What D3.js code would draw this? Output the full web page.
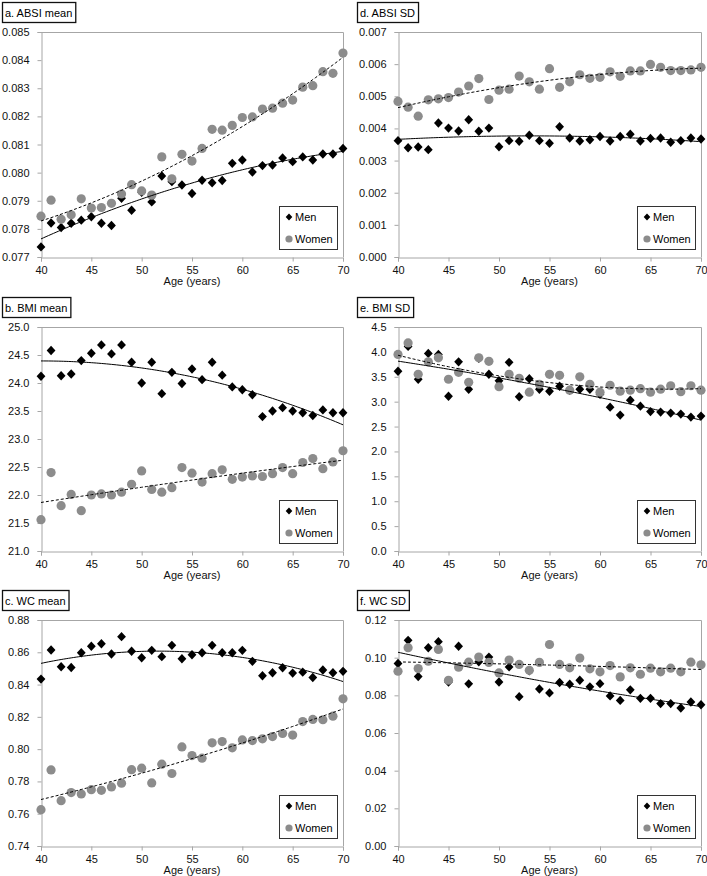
<!DOCTYPE html>
<html>
<head>
<meta charset="utf-8">
<script src="https://cdn.jsdelivr.net/npm/d3@7"></script>
<style>
  html, body { margin: 0; padding: 0; background: #fff; }
  svg { display: block; font-family: "Liberation Sans", Arial, sans-serif; }
</style>
</head>
<body>
<svg id="chart" width="707" height="876"></svg>
<script>
// ---------------- DATA ----------------
const ages = [40,41,42,43,44,45,46,47,48,49,50,51,52,53,54,55,56,57,58,59,60,61,62,63,64,65,66,67,68,69,70];
const xTicks = [40,45,50,55,60,65,70];
const seriesNames = ["Men", "Women"];

const absiMeanMen = [0.07736,0.07821,0.07805,0.07820,0.07831,0.07843,0.07820,0.07812,0.07909,0.07866,0.07930,0.07896,0.07988,0.07968,0.07956,0.07926,0.07973,0.07964,0.07972,0.08033,0.08045,0.08002,0.08025,0.08027,0.08052,0.08039,0.08056,0.08045,0.08066,0.08066,0.08086];
const absiMeanWomen = [0.07845,0.07902,0.07834,0.07850,0.07907,0.07874,0.07876,0.07891,0.07924,0.07957,0.07935,0.07920,0.08056,0.07978,0.08065,0.08041,0.08086,0.08154,0.08151,0.08168,0.08196,0.08198,0.08226,0.08229,0.08247,0.08258,0.08304,0.08309,0.08359,0.08353,0.08425];
const absiMeanTicks = [0.077,0.078,0.079,0.080,0.081,0.082,0.083,0.084,0.085];

const absiSdMen = [0.00362,0.00340,0.00342,0.00334,0.00417,0.00401,0.00392,0.00427,0.00391,0.00401,0.00343,0.00362,0.00360,0.00379,0.00362,0.00354,0.00405,0.00370,0.00361,0.00365,0.00375,0.00361,0.00375,0.00382,0.00361,0.00369,0.00370,0.00357,0.00362,0.00370,0.00367];
const absiSdWomen = [0.00484,0.00466,0.00438,0.00489,0.00492,0.00496,0.00513,0.00532,0.00555,0.00490,0.00519,0.00522,0.00563,0.00545,0.00522,0.00586,0.00528,0.00545,0.00567,0.00556,0.00559,0.00576,0.00562,0.00579,0.00579,0.00599,0.00590,0.00580,0.00580,0.00582,0.00590];
const absiSdTicks = [0.000,0.001,0.002,0.003,0.004,0.005,0.006,0.007];

const bmiMeanMen = [24.12,24.58,24.13,24.16,24.40,24.53,24.68,24.52,24.68,24.37,24.00,24.37,23.81,24.19,23.99,24.25,24.06,24.37,24.14,23.93,23.88,23.79,23.40,23.50,23.56,23.50,23.47,23.42,23.52,23.47,23.47];
const bmiMeanWomen = [21.56,22.40,21.81,22.01,21.72,22.00,22.02,22.00,22.05,22.19,22.43,22.10,22.05,22.13,22.49,22.39,22.23,22.38,22.45,22.28,22.32,22.34,22.33,22.38,22.49,22.38,22.58,22.65,22.47,22.59,22.79];
const bmiMeanTicks = [21.0,21.5,22.0,22.5,23.0,23.5,24.0,24.5,25.0];

const bmiSdMen = [3.61,4.11,3.45,3.97,3.95,3.11,3.80,3.25,3.87,3.55,3.42,3.79,3.10,3.46,3.25,3.21,3.31,3.23,3.25,3.25,3.15,2.89,2.73,3.03,2.91,2.80,2.79,2.77,2.75,2.69,2.71];
const bmiSdWomen = [3.95,4.18,3.55,3.80,3.88,3.45,3.59,3.39,3.88,3.81,3.30,3.55,3.47,3.19,3.35,3.55,3.53,3.23,3.50,3.35,3.19,3.33,3.21,3.23,3.26,3.19,3.25,3.32,3.20,3.32,3.23];
const bmiSdTicks = [0.0,0.5,1.0,1.5,2.0,2.5,3.0,3.5,4.0,4.5];

const wcMeanMen = [0.8434,0.8614,0.8510,0.8506,0.8597,0.8637,0.8653,0.8589,0.8697,0.8606,0.8566,0.8612,0.8573,0.8643,0.8560,0.8585,0.8597,0.8643,0.8597,0.8597,0.8612,0.8544,0.8455,0.8473,0.8504,0.8471,0.8477,0.8444,0.8490,0.8473,0.8482];
const wcMeanWomen = [0.7625,0.7871,0.7681,0.7731,0.7722,0.7749,0.7745,0.7766,0.7789,0.7873,0.7882,0.7791,0.7907,0.7849,0.8014,0.7960,0.7944,0.8039,0.8047,0.8008,0.8057,0.8053,0.8064,0.8078,0.8097,0.8087,0.8171,0.8184,0.8182,0.8204,0.8312];
const wcMeanTicks = [0.74,0.76,0.78,0.80,0.82,0.84,0.86,0.88];

const wcSdMen = [0.0969,0.1092,0.0900,0.1053,0.1085,0.0871,0.1061,0.0861,0.0978,0.1003,0.0871,0.0951,0.0793,0.0930,0.0834,0.0813,0.0868,0.0859,0.0880,0.0845,0.0862,0.0797,0.0773,0.0829,0.0784,0.0784,0.0756,0.0756,0.0733,0.0765,0.0750];
const wcSdWomen = [0.0928,0.1053,0.0942,0.0981,0.1044,0.0880,0.0949,0.0976,0.1003,0.0975,0.0919,0.0987,0.0964,0.0933,0.0975,0.1070,0.0964,0.0946,0.0998,0.0941,0.0925,0.0958,0.0898,0.0946,0.0912,0.0944,0.0925,0.0944,0.0925,0.0976,0.0962];
const wcSdTicks = [0.00,0.02,0.04,0.06,0.08,0.10,0.12];

const panelTitles = ["a. ABSI mean","b. BMI mean","c. WC mean","d. ABSI SD","e. BMI SD","f. WC SD"];
const xTitle = "Age (years)";

// ---------------- LAYOUT ----------------
const panels = [
  {title: panelTitles[0], men: absiMeanMen, women: absiMeanWomen, ticks: absiMeanTicks, fmt: ".3f", col: 0, row: 0},
  {title: panelTitles[1], men: bmiMeanMen,  women: bmiMeanWomen,  ticks: bmiMeanTicks,  fmt: ".1f", col: 0, row: 1},
  {title: panelTitles[2], men: wcMeanMen,   women: wcMeanWomen,   ticks: wcMeanTicks,   fmt: ".2f", col: 0, row: 2},
  {title: panelTitles[3], men: absiSdMen,   women: absiSdWomen,   ticks: absiSdTicks,   fmt: ".3f", col: 1, row: 0},
  {title: panelTitles[4], men: bmiSdMen,    women: bmiSdWomen,    ticks: bmiSdTicks,    fmt: ".1f", col: 1, row: 1},
  {title: panelTitles[5], men: wcSdMen,     women: wcSdWomen,     ticks: wcSdTicks,     fmt: ".2f", col: 1, row: 2}
];
const colX = [[41, 343], [398, 701]];
const colTitleX = [2, 357];
const rowY = [[32, 257], [327, 551], [620, 846]];

const grey = "#8c8c8c";
const frame = "#a6a6a6";

function polyfit(xs, ys, deg) {
  const n = deg + 1;
  const A = Array.from({length: n}, () => new Array(n + 1).fill(0));
  xs.forEach((x, i) => {
    for (let r = 0; r < n; r++) {
      for (let c = 0; c < n; c++) A[r][c] += Math.pow(x, r + c);
      A[r][n] += ys[i] * Math.pow(x, r);
    }
  });
  for (let i = 0; i < n; i++) {
    let p = i;
    for (let k = i + 1; k < n; k++) if (Math.abs(A[k][i]) > Math.abs(A[p][i])) p = k;
    [A[i], A[p]] = [A[p], A[i]];
    for (let k = i + 1; k < n; k++) {
      const f = A[k][i] / A[i][i];
      for (let c = i; c <= n; c++) A[k][c] -= f * A[i][c];
    }
  }
  const coef = new Array(n).fill(0);
  for (let i = n - 1; i >= 0; i--) {
    let s = A[i][n];
    for (let c = i + 1; c < n; c++) s -= A[i][c] * coef[c];
    coef[i] = s / A[i][i];
  }
  return x => coef.reduce((acc, a, k) => acc + a * Math.pow(x, k), 0);
}

const svg = d3.select("#chart");
const font = 11;

function diamondPath(cx, cy, hw, hh) {
  return `M${cx},${cy - hh}L${cx + hw},${cy}L${cx},${cy + hh}L${cx - hw},${cy}Z`;
}

panels.forEach(p => {
  const [x0, x1] = colX[p.col];
  const [y0, y1] = rowY[p.row];
  const x = d3.scaleLinear().domain([40, 70]).range([x0, x1]);
  const y = d3.scaleLinear().domain([p.ticks[0], p.ticks[p.ticks.length - 1]]).range([y1, y0]);
  const g = svg.append("g");

  // frame (top and right)
  g.append("path")
    .attr("d", `M${x0},${y0 + 0.5}H${x1 + 0.5}V${y1}`)
    .attr("fill", "none").attr("stroke", frame).attr("stroke-width", 1);

  // y axis
  const yAx = g.append("g").attr("transform", `translate(${x0 + 0.5},0)`)
    .call(d3.axisLeft(y).tickValues(p.ticks).tickFormat(d3.format(p.fmt)).tickSize(4).tickPadding(8));
  yAx.select(".domain").attr("stroke", frame);
  yAx.selectAll(".tick line").attr("stroke", frame);
  yAx.selectAll("text").attr("font-size", font).attr("fill", "#111")
     .attr("font-family", "Liberation Sans, Arial, sans-serif");

  // x axis
  const xAx = g.append("g").attr("transform", `translate(0,${y1 + 0.5})`)
    .call(d3.axisBottom(x).tickValues(xTicks).tickSize(4).tickPadding(5));
  xAx.select(".domain").attr("stroke", frame);
  xAx.selectAll(".tick line").attr("stroke", frame);
  xAx.selectAll("text").attr("font-size", font).attr("fill", "#111")
     .attr("font-family", "Liberation Sans, Arial, sans-serif");

  g.append("text").attr("x", (x0 + x1) / 2).attr("y", y1 + 28)
    .attr("text-anchor", "middle").attr("font-size", font).attr("fill", "#111").text(xTitle);

  // trend lines
  const fitM = polyfit(ages.map(a => a - 55), p.men, 2);
  const fitW = polyfit(ages.map(a => a - 55), p.women, 2);
  const xs = d3.range(40, 70.001, 0.25);
  const line = d3.line().x(d => x(d[0])).y(d => y(d[1]));

  // men points
  g.append("g").selectAll("path").data(ages).join("path")
    .attr("d", (a, i) => diamondPath(x(a), y(p.men[i]), 4.4, 4.7))
    .attr("fill", "#000");
  // women points (drawn over men)
  g.append("g").selectAll("circle").data(ages).join("circle")
    .attr("cx", a => x(a)).attr("cy", (a, i) => y(p.women[i])).attr("r", 4.6)
    .attr("fill", grey);

  g.append("path").datum(xs.map(v => [v, fitM(v - 55)])).attr("d", line)
    .attr("fill", "none").attr("stroke", "#000").attr("stroke-width", 1);
  g.append("path").datum(xs.map(v => [v, fitW(v - 55)])).attr("d", line)
    .attr("fill", "none").attr("stroke", "#000").attr("stroke-width", 1)
    .attr("stroke-dasharray", "3,2");

  // title box
  const tx = colTitleX[p.col];
  const ty = y0 - 30;
  const tg = g.append("g");
  const rect = tg.append("rect").attr("x", tx + 0.5).attr("y", ty + 0.5).attr("height", 20)
    .attr("fill", "#fff").attr("stroke", "#111").attr("stroke-width", 1.3);
  const tt = tg.append("text").attr("x", tx + 3).attr("y", ty + 14.5)
    .attr("font-size", font).attr("fill", "#000").text(p.title);
  rect.attr("width", tt.node().getComputedTextLength() + 6);

  // legend
  const lw = 58, lh = 43;
  const lx = x1 - 6 - lw, ly = y1 - 8 - lh;
  const lg = g.append("g");
  lg.append("rect").attr("x", lx + 0.5).attr("y", ly + 0.5).attr("width", lw).attr("height", lh)
    .attr("fill", "#fff").attr("stroke", "#333").attr("stroke-width", 1);
  lg.append("path").attr("d", diamondPath(lx + 10, ly + 11, 3.3, 3.6)).attr("fill", "#000");
  lg.append("circle").attr("cx", lx + 10).attr("cy", ly + 33).attr("r", 3.6).attr("fill", grey);
  lg.append("text").attr("x", lx + 16).attr("y", ly + 15).attr("font-size", font).attr("fill", "#000").text(seriesNames[0]);
  lg.append("text").attr("x", lx + 16).attr("y", ly + 37).attr("font-size", font).attr("fill", "#000").text(seriesNames[1]);
});
</script>
</body>
</html>
